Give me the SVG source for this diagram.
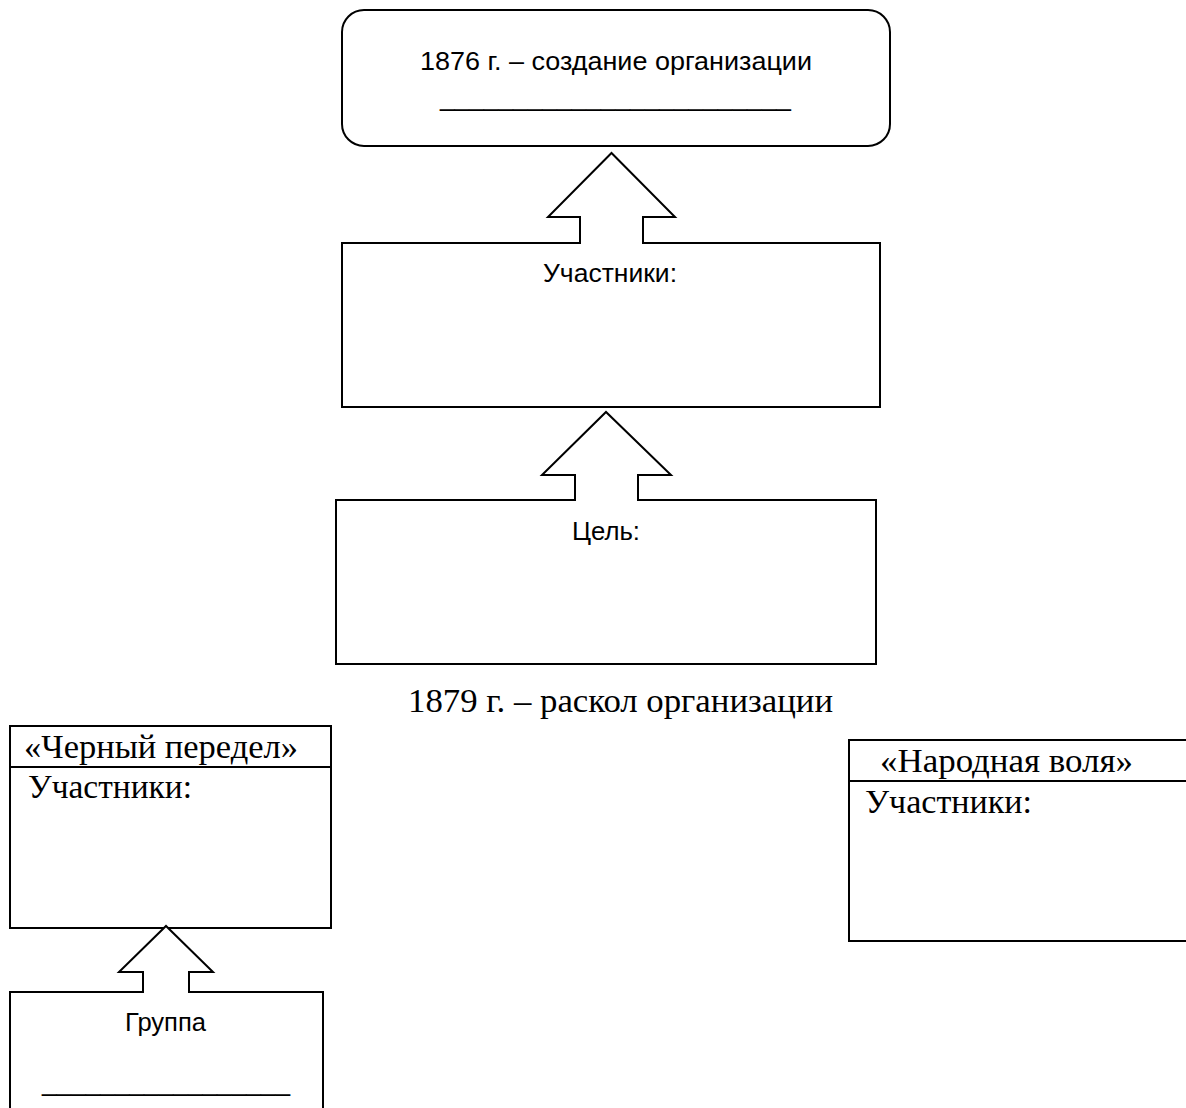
<svg xmlns="http://www.w3.org/2000/svg" width="1186" height="1108" viewBox="0 0 1186 1108">
  <style>
    .box { fill: #ffffff; stroke: #000000; stroke-width: 2; }
    .arrow { fill: #ffffff; stroke: #000000; stroke-width: 2; stroke-linejoin: miter; }
    .sans { font-family: "Liberation Sans", Arial, sans-serif; font-size: 26px; fill: #000000; }
    .serif { font-family: "Liberation Serif", "Times New Roman", serif; font-size: 33px; fill: #000000; }
  </style>
  <rect width="1186" height="1108" fill="#ffffff"/>

  <g id="node-creation">
    <rect class="box" x="342" y="10" width="548" height="136" rx="22" ry="22"/>
    <text class="sans" x="420" y="70" textLength="392" lengthAdjust="spacingAndGlyphs">1876 г. – создание организации</text>
    <text class="sans" x="440" y="106" textLength="351" lengthAdjust="spacingAndGlyphs">________________________</text>
  </g>

  <g id="node-participants">
    <rect class="box" x="342" y="243" width="538" height="164"/>
    <text class="sans" x="543" y="282" textLength="134" lengthAdjust="spacingAndGlyphs">Участники:</text>
  </g>

  <g id="node-goal">
    <rect class="box" x="336" y="500" width="540" height="164"/>
    <text class="sans" x="572" y="540" textLength="68" lengthAdjust="spacingAndGlyphs">Цель:</text>
  </g>

  <g id="label-split">
    <text class="serif" x="408" y="712" textLength="425" lengthAdjust="spacingAndGlyphs">1879 г. – раскол организации</text>
  </g>

  <g id="node-black-repartition">
    <rect class="box" x="10" y="726" width="321" height="202"/>
    <line x1="10" y1="767" x2="331" y2="767" stroke="#000" stroke-width="2"/>
    <text class="serif" x="24" y="758" textLength="274" lengthAdjust="spacingAndGlyphs">«Черный передел»</text>
    <text class="serif" x="28" y="798" textLength="164" lengthAdjust="spacingAndGlyphs">Участники:</text>
  </g>

  <g id="node-group">
    <rect class="box" x="10" y="992" width="313" height="140"/>
    <text class="sans" x="125" y="1031" textLength="81" lengthAdjust="spacingAndGlyphs">Группа</text>
    <text class="sans" x="42" y="1091" textLength="248" lengthAdjust="spacingAndGlyphs">_________________</text>
  </g>

  <g id="node-peoples-will">
    <rect class="box" x="849" y="740" width="350" height="201"/>
    <line x1="849" y1="781" x2="1190" y2="781" stroke="#000" stroke-width="2"/>
    <text class="serif" x="880" y="772" textLength="253" lengthAdjust="spacingAndGlyphs">«Народная воля»</text>
    <text class="serif" x="865" y="813" textLength="167" lengthAdjust="spacingAndGlyphs">Участники:</text>
  </g>

  <g id="connectors">
    <path class="arrow" d="M580,244 L580,217 L548,217 L611.5,153 L675,217 L643,217 L643,244"/>
    <path class="arrow" d="M575,501 L575,475 L542,475 L606,412 L671,475 L638,475 L638,501"/>
    <path class="arrow" d="M143,993 L143,972 L119,972 L166,926 L213,972 L189,972 L189,993"/>
  </g>
</svg>
